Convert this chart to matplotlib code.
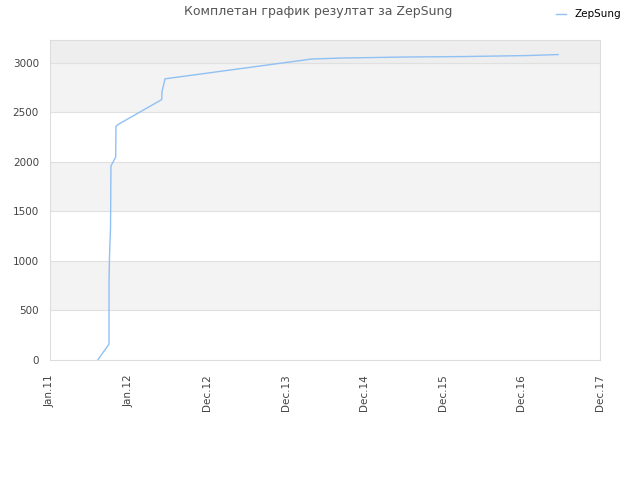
import matplotlib
matplotlib.use("Agg")
import matplotlib.pyplot as plt

# x in tick units (0 = Jan.11 ... 7 = Dec.17)
tick_labels = ["Jan.11", "Jan.12", "Dec.12", "Dec.13", "Dec.14", "Dec.15", "Dec.16", "Dec.17"]
x_vals = [0.607, 0.751, 0.751, 0.757, 0.770, 0.776, 0.836, 0.840, 0.869,
          1.422, 1.425, 1.464, 3.331, 3.713, 4.518, 5.282, 6.084, 6.466]
y_vals = [0, 160, 780, 1040, 1330, 1960, 2050, 2360, 2380,
          2630, 2710, 2840, 3040, 3050, 3060, 3065, 3075, 3085]
y_ticks = [0, 500, 1000, 1500, 2000, 2500, 3000]
y_top = 3232

fig = plt.figure(figsize=(6.4, 4.8), dpi=100)
ax = fig.add_axes([50 / 640, 0.25, 550 / 640, 320 / 480])

# alternating bands
for i, lo in enumerate(y_ticks[:-1]):
    if i % 2 == 1:
        ax.axhspan(lo, lo + 500, color="#f3f3f3", zorder=0, lw=0)
ax.axhspan(3000, y_top, color="#eeeeee", zorder=0, lw=0)
for t in y_ticks[1:]:
    ax.axhline(t, color="#e0e0e0", lw=0.8, zorder=1)

ax.plot(x_vals, y_vals, color="#90c0f4", lw=1.0, zorder=3, label="ZepSung")

ax.set_xlim(0, 7)
ax.set_ylim(0, y_top)
ax.set_xticks(range(len(tick_labels)))
ax.set_xticklabels(tick_labels, rotation=90, fontsize=7.5, color="#444444")
ax.set_yticks(y_ticks)
ax.set_yticklabels([str(t) for t in y_ticks], fontsize=7.5, color="#444444")
ax.tick_params(axis="y", length=0, pad=8)
ax.tick_params(axis="x", length=0, pad=10)
for s in ax.spines.values():
    s.set_color("#dddddd")

fig.text(318 / 640, 1 - 12 / 480, "Комплетан график резултат за ZepSung",
         ha="center", va="center", fontsize=9, color="#555555")
fig.legend(loc="upper right", bbox_to_anchor=(0.985, 1.0), frameon=False,
           fontsize=7.5, handlelength=1.0, handletextpad=0.8)

fig.savefig("out.png", dpi=100, facecolor="white")
